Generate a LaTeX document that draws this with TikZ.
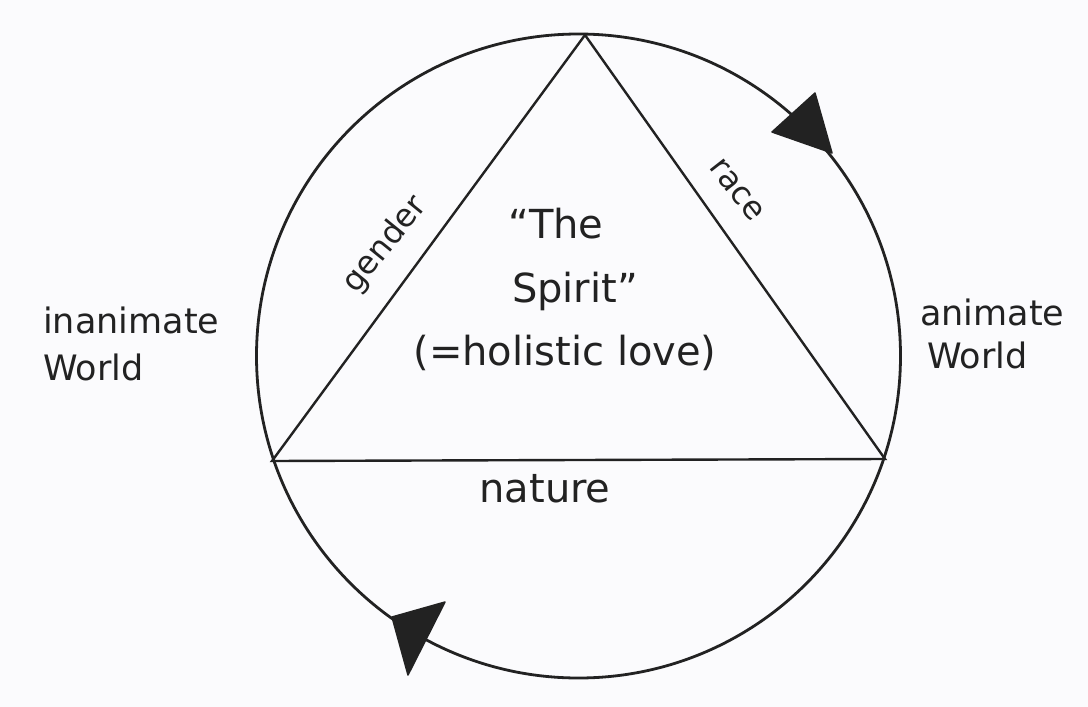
\documentclass[tikz,border=0pt]{standalone}
\usepackage{fontspec}
\setmainfont{DejaVu Sans}
\definecolor{ink}{HTML}{222222}
\definecolor{paper}{HTML}{FBFBFD}
\begin{document}
\begin{tikzpicture}[x=1pt,y=-1pt,
  ring/.style={draw=ink,line width=2.8pt},
  edge/.style={draw=ink,line width=2.4pt},
  tip/.style={fill=ink,draw=ink,line width=1.5pt,line join=round},
  hand/.style={text=ink,inner sep=0pt},
  big/.style={hand,font=\fontsize{40}{48}\selectfont},
  side/.style={hand,font=\fontsize{35}{42}\selectfont},
  small/.style={hand,font=\fontsize{32}{38}\selectfont}]
\fill[paper] (0,0) rectangle (1088,707);
\useasboundingbox (0,0) rectangle (1088,707);
% circle
\coordinate (O) at (578.5,356);
\draw[ring] (O) circle (322pt);
% triangle
\coordinate (A) at (585,35);
\coordinate (B) at (272,461);
\coordinate (C) at (885,459);
\draw[edge] (A) -- (B) -- (C) -- cycle;
% arrowheads on the circle
\fill[tip] (832,153) -- (772,132) -- (815,93) -- cycle;
\fill[tip] (392,617) -- (445,602) -- (408,675) -- cycle;
% centre text
\node[big,anchor=base] (t1) at (556,238) {“The};
\node[big,anchor=base] (t2) at (575,302) {Spirit”};
\node[big,anchor=base] (t3) at (565,365) {(=holistic love)};
% edge labels
\node[small,rotate=51] (gender) at (385,245) {gender};
\node[small,rotate=-52] (race) at (737,190) {race};
\node[big,anchor=base] (nature) at (545,502) {nature};
% side labels
\node[side,anchor=base west] (in1) at (43,333) {inanimate};
\node[side,anchor=base west] (in2) at (43,380) {World};
\node[side,anchor=base west] (an1) at (920,325) {animate};
\node[side,anchor=base west] (an2) at (927,368) {World};
\end{tikzpicture}
\end{document}
